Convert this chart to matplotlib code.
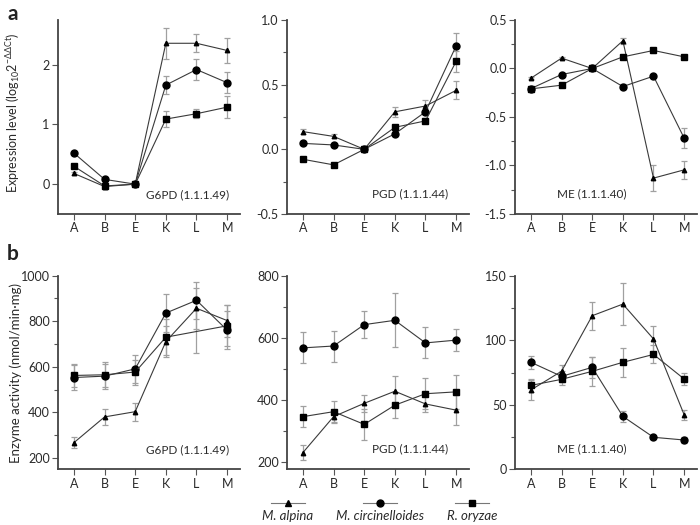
import numpy as np
import matplotlib
matplotlib.use("Agg")
import matplotlib.pyplot as plt
from matplotlib.ticker import MultipleLocator

plt.rcParams['font.family'] = ['Lato', 'DejaVu Sans']
plt.rcParams['mathtext.fontset'] = 'custom'
plt.rcParams['mathtext.rm'] = 'Lato'
plt.rcParams['mathtext.it'] = 'Lato'
plt.rcParams['axes.unicode_minus'] = False

# =========================
# data
# =========================
stages = ['A', 'B', 'E', 'K', 'L', 'M']
species = ['M. alpina', 'M. circinelloides', 'R. oryzae']

# a: expression level (log10 2^-ddCt)
g6pd_expr_alpina = [0.18, -0.04, 0.0, 2.36, 2.36, 2.24]
g6pd_expr_alpina_err = [0.02, 0.03, 0.0, 0.26, 0.15, 0.21]
g6pd_expr_circ = [0.52, 0.08, 0.0, 1.66, 1.92, 1.70]
g6pd_expr_circ_err = [0.02, 0.02, 0.0, 0.15, 0.17, 0.18]
g6pd_expr_oryzae = [0.30, -0.03, 0.0, 1.09, 1.18, 1.29]
g6pd_expr_oryzae_err = [0.03, 0.04, 0.0, 0.13, 0.08, 0.19]

pgd_expr_alpina = [0.137, 0.10, 0.0, 0.29, 0.335, 0.456]
pgd_expr_alpina_err = [0.02, 0.015, 0.0, 0.04, 0.05, 0.07]
pgd_expr_circ = [0.046, 0.034, 0.0, 0.12, 0.29, 0.80]
pgd_expr_circ_err = [0.01, 0.01, 0.0, 0.015, 0.02, 0.10]
pgd_expr_oryzae = [-0.077, -0.12, 0.0, 0.17, 0.22, 0.68]
pgd_expr_oryzae_err = [0.01, 0.015, 0.0, 0.02, 0.02, 0.08]

me_expr_alpina = [-0.10, 0.107, 0.0, 0.286, -1.13, -1.045]
me_expr_alpina_err = [0.01, 0.01, 0.0, 0.03, 0.13, 0.09]
me_expr_circ = [-0.207, -0.062, 0.0, -0.186, -0.079, -0.717]
me_expr_circ_err = [0.02, 0.01, 0.0, 0.03, 0.01, 0.10]
me_expr_oryzae = [-0.21, -0.172, 0.0, 0.12, 0.186, 0.12]
me_expr_oryzae_err = [0.01, 0.01, 0.0, 0.01, 0.03, 0.01]

# b: enzyme activity (nmol/min·mg)
g6pd_act_alpina = [267, 380, 403, 711, 857, 803]
g6pd_act_alpina_err = [25, 35, 40, 70, 90, 70]
g6pd_act_circ = [553, 559, 591, 836, 892, 761]
g6pd_act_circ_err = [55, 55, 60, 84, 80, 85]
g6pd_act_oryzae = [562, 565, 577, 730, 755, 780]
g6pd_act_oryzae_err = [50, 55, 55, 80, 95, 90]

pgd_act_alpina = [229, 345, 388, 427, 386, 366]
pgd_act_alpina_err = [24, 20, 27, 48, 25, 48]
pgd_act_circ = [567, 573, 642, 656, 583, 592]
pgd_act_circ_err = [50, 50, 44, 87, 50, 36]
pgd_act_oryzae = [345, 361, 320, 382, 419, 425]
pgd_act_oryzae_err = [35, 33, 50, 43, 50, 55]

me_act_alpina = [61.5, 76, 119, 128, 101, 42.3]
me_act_alpina_err = [8, 5, 11, 16, 10, 4]
me_act_circ = [82.9, 72, 79, 41, 24.8, 22.7]
me_act_circ_err = [5, 4, 8, 4, 1, 2]
me_act_oryzae = [65, 69.7, 75.9, 82.9, 89, 70]
me_act_oryzae_err = [5, 4, 11, 11, 7, 5]

# =========================
# style
# =========================
LINE_C = '#3a3a3a'
ERR_C = '#a0a0a0'
TEXT_C = '#2a2a2a'
markers = {'M. alpina': ('^', 3.2), 'M. circinelloides': ('o', 5.0), 'R. oryzae': ('s', 4.4)}

fig = plt.figure(figsize=(7, 5.25), dpi=100)

W = 182 / 700
top_h = 194 / 525
bot_h = 193.6 / 525
lefts = [58 / 700, 287 / 700, 515 / 700]
top_bottom = 1 - 214 / 525
bot_bottom = 1 - 469.3 / 525

panels = [
    # (row, col, series, ylim, major ticks, minor step, enzyme label, label placement)
    (0, 0, [(g6pd_expr_alpina, g6pd_expr_alpina_err), (g6pd_expr_circ, g6pd_expr_circ_err),
            (g6pd_expr_oryzae, g6pd_expr_oryzae_err)],
     (-0.5, 2.75), [0, 1, 2], None, 'G6PD (1.1.1.49)', 'right'),
    (0, 1, [(pgd_expr_alpina, pgd_expr_alpina_err), (pgd_expr_circ, pgd_expr_circ_err),
            (pgd_expr_oryzae, pgd_expr_oryzae_err)],
     (-0.5, 1.0), [-0.5, 0.0, 0.5, 1.0], 0.25, 'PGD (1.1.1.44)', 'right2'),
    (0, 2, [(me_expr_alpina, me_expr_alpina_err), (me_expr_circ, me_expr_circ_err),
            (me_expr_oryzae, me_expr_oryzae_err)],
     (-1.5, 0.5), [-1.5, -1.0, -0.5, 0.0, 0.5], 0.25, 'ME (1.1.1.40)', 'center'),
    (1, 0, [(g6pd_act_alpina, g6pd_act_alpina_err), (g6pd_act_circ, g6pd_act_circ_err),
            (g6pd_act_oryzae, g6pd_act_oryzae_err)],
     (150, 1000), [200, 400, 600, 800, 1000], 100, 'G6PD (1.1.1.49)', 'right'),
    (1, 1, [(pgd_act_alpina, pgd_act_alpina_err), (pgd_act_circ, pgd_act_circ_err),
            (pgd_act_oryzae, pgd_act_oryzae_err)],
     (175, 800), [200, 400, 600, 800], 100, 'PGD (1.1.1.44)', 'right2'),
    (1, 2, [(me_act_alpina, me_act_alpina_err), (me_act_circ, me_act_circ_err),
            (me_act_oryzae, me_act_oryzae_err)],
     (0, 150), [0, 50, 100, 150], 25, 'ME (1.1.1.40)', 'center'),
]

x = np.arange(len(stages))
axes = {}
for row, col, series, ylim, major, minor, label, lpos in panels:
    bottom = top_bottom if row == 0 else bot_bottom
    h = top_h if row == 0 else bot_h
    ax = fig.add_axes([lefts[col], bottom, W, h])
    axes[(row, col)] = ax
    for name, (vals, errs) in zip(species, series):
        m, ms = markers[name]
        vals = np.asarray(vals, dtype=float)
        ax.errorbar(x, vals, yerr=errs, fmt='none', ecolor=ERR_C, elinewidth=0.9,
                    capsize=2.2, capthick=0.9, zorder=1)
        mevery = None
        # R. oryzae G6PD activity at L has no marker in the original
        if row == 1 and col == 0 and name == 'R. oryzae':
            mevery = [0, 1, 2, 3, 5]
        ax.plot(x, vals, color=LINE_C, lw=0.8, marker=m, ms=ms, mfc='black',
                mec='black', markevery=mevery, zorder=3)
    ax.set_xlim(-0.52, 5.42)
    ax.set_ylim(*ylim)
    ax.set_xticks(x)
    ax.set_xticklabels(stages)
    ax.set_yticks(major)
    if isinstance(major[0], float):
        ax.set_yticklabels([f'{v:.1f}' for v in major])
    if minor:
        ax.yaxis.set_minor_locator(MultipleLocator(minor))
    for s in ['top', 'right']:
        ax.spines[s].set_visible(False)
    for s in ['left', 'bottom']:
        ax.spines[s].set_color('#444444')
        ax.spines[s].set_linewidth(1.3)
    ax.tick_params(axis='both', which='major', labelsize=9, colors='#555555',
                   labelcolor=TEXT_C, length=4, width=0.8, pad=2)
    ax.tick_params(axis='y', which='minor', length=3, width=0.8, colors='#555555')
    if lpos == 'right':
        ax.text(0.94, 0.10, label, transform=ax.transAxes, ha='right', va='center',
                fontsize=8.5, color=TEXT_C)
    elif lpos == 'right2':
        ax.text(0.885, 0.105, label, transform=ax.transAxes, ha='right', va='center',
                fontsize=8.5, color=TEXT_C)
    else:
        ax.text(0.42, 0.105, label, transform=ax.transAxes, ha='center', va='center',
                fontsize=8.5, color=TEXT_C)

axes[(0, 0)].set_ylabel(r'Expression level (log$_{10}$2$^{-\Delta\Delta Ct}$)',
                        fontsize=9, color=TEXT_C)
axes[(0, 0)].yaxis.set_label_coords(-0.2, 0.52)
axes[(1, 0)].set_ylabel('Enzyme activity (nmol/min·mg)', fontsize=9.5, color=TEXT_C)
axes[(1, 0)].yaxis.set_label_coords(-0.2, 0.5)

fig.text(7 / 700, 1 - 14 / 525, 'a', fontsize=15, fontweight='bold', color='#222222',
         ha='left', va='center')
fig.text(7 / 700, 1 - 254 / 525, 'b', fontsize=15, fontweight='bold', color='#222222',
         ha='left', va='center')

# legend: marker on a short line, italic name below
leg = fig.add_axes([0, 0, 1, 40 / 525])
leg.set_xlim(0, 700)
leg.set_ylim(0, 40)
leg.axis('off')
leg_x = [288, 380, 472]
for name, cx in zip(species, leg_x):
    m, ms = markers[name]
    leg.plot([cx - 17, cx + 17], [22, 22], color='#777777', lw=0.8)
    leg.plot([cx], [22], marker=m, ms=ms + 0.8 if m == '^' else ms, color='black')
    leg.text(cx, 9, name, ha='center', va='center', fontsize=9.5, style='italic',
             color=TEXT_C)

fig.savefig('out.png', dpi=100)
